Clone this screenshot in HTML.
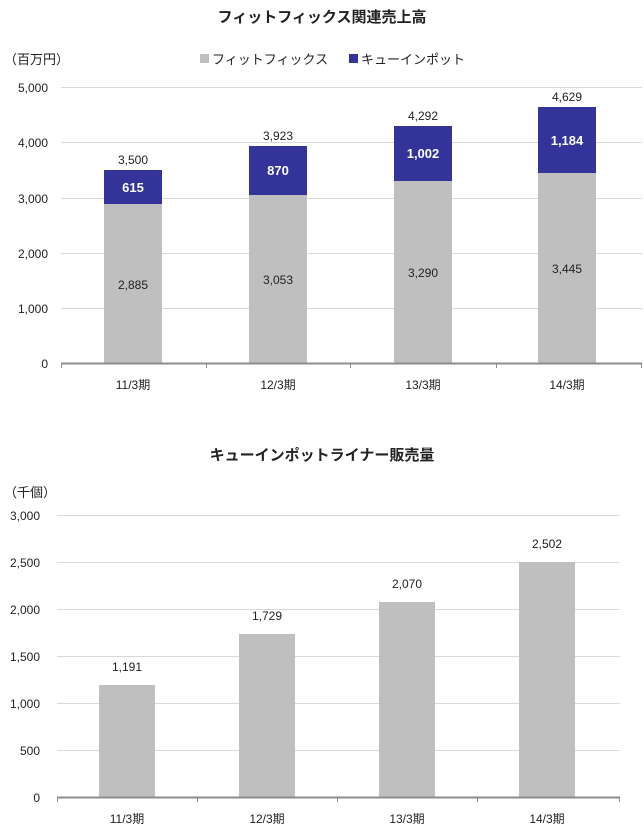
<!DOCTYPE html>
<html><head><meta charset="utf-8"><style>
body{margin:0;background:#fff;}
svg text{font-family:"Liberation Sans","Noto Sans CJK JP",sans-serif;fill:#222;}
</style></head><body>
<svg width="644" height="828" viewBox="0 0 644 828" xmlns="http://www.w3.org/2000/svg">
<text x="322" y="22" font-size="15" font-weight="bold" text-anchor="middle">フィットフィックス関連売上高</text>
<text x="4" y="64" font-size="13">（百万円）</text>
<rect x="200" y="54" width="9" height="9" fill="#bfbfbf"/>
<text x="212" y="64" font-size="13">フィットフィックス</text>
<rect x="349" y="54" width="9" height="9" fill="#333399"/>
<text x="361" y="64" font-size="13">キューインポット</text>
<g stroke="#d9d9d9" stroke-width="1">
<line x1="61" y1="87.5" x2="642" y2="87.5"/><line x1="61" y1="142.5" x2="642" y2="142.5"/>
<line x1="61" y1="198.5" x2="642" y2="198.5"/><line x1="61" y1="253.5" x2="642" y2="253.5"/>
<line x1="61" y1="308.5" x2="642" y2="308.5"/></g>
<g font-size="12" text-anchor="end">
<text x="48" y="92">5,000</text><text x="48" y="147">4,000</text><text x="48" y="203">3,000</text>
<text x="48" y="258">2,000</text><text x="48" y="313">1,000</text><text x="48" y="368">0</text></g>
<g fill="#bfbfbf"><rect x="104" y="204" width="58" height="159"/><rect x="249" y="195" width="58" height="168"/>
<rect x="394" y="181" width="58" height="182"/><rect x="538" y="173" width="58" height="190"/></g>
<g fill="#333399"><rect x="104" y="170" width="58" height="34"/><rect x="249" y="146" width="58" height="49"/>
<rect x="394" y="126" width="58" height="55"/><rect x="538" y="107" width="58" height="66"/></g>
<line x1="61" y1="363.5" x2="642" y2="363.5" stroke="#8c8c8c" stroke-width="2"/>
<g stroke="#8c8c8c"><line x1="61.5" y1="363" x2="61.5" y2="368"/><line x1="206.5" y1="363" x2="206.5" y2="368"/><line x1="350.5" y1="363" x2="350.5" y2="368"/><line x1="496.5" y1="363" x2="496.5" y2="368"/><line x1="641.5" y1="363" x2="641.5" y2="368"/></g>
<g font-size="12" text-anchor="middle">
<text x="133" y="164">3,500</text><text x="278" y="140">3,923</text><text x="423" y="120">4,292</text><text x="567" y="101">4,629</text>
<text x="133" y="289">2,885</text><text x="278" y="284">3,053</text><text x="423" y="277">3,290</text><text x="567" y="273">3,445</text>
<g font-weight="bold" font-size="13" style="fill:#fff"><text x="133" y="192" style="fill:#fff">615</text><text x="278" y="175" style="fill:#fff">870</text><text x="423" y="158" style="fill:#fff">1,002</text><text x="567" y="145" style="fill:#fff">1,184</text></g>
<text x="133" y="389">11/3期</text><text x="278" y="389">12/3期</text><text x="423" y="389">13/3期</text><text x="567" y="389">14/3期</text></g>

<text x="322" y="460" font-size="15" font-weight="bold" text-anchor="middle">キューインポットライナー販売量</text>
<text x="4" y="497" font-size="13">（千個）</text>
<g stroke="#d9d9d9"><line x1="57" y1="515.5" x2="620" y2="515.5"/><line x1="57" y1="562.5" x2="620" y2="562.5"/>
<line x1="57" y1="609.5" x2="620" y2="609.5"/><line x1="57" y1="656.5" x2="620" y2="656.5"/>
<line x1="57" y1="703.5" x2="620" y2="703.5"/><line x1="57" y1="750.5" x2="620" y2="750.5"/></g>
<g font-size="12" text-anchor="end">
<text x="40" y="520">3,000</text><text x="40" y="567">2,500</text><text x="40" y="614">2,000</text>
<text x="40" y="661">1,500</text><text x="40" y="708">1,000</text><text x="40" y="755">500</text><text x="40" y="802">0</text></g>
<g fill="#bfbfbf"><rect x="99" y="685" width="56" height="112"/><rect x="239" y="634" width="56" height="163"/>
<rect x="379" y="602" width="56" height="195"/><rect x="519" y="562" width="56" height="235"/></g>
<line x1="57" y1="797.5" x2="620" y2="797.5" stroke="#8c8c8c" stroke-width="2"/>
<g stroke="#8c8c8c"><line x1="57.5" y1="797" x2="57.5" y2="802"/><line x1="197.5" y1="797" x2="197.5" y2="802"/><line x1="337.5" y1="797" x2="337.5" y2="802"/><line x1="477.5" y1="797" x2="477.5" y2="802"/><line x1="619.5" y1="797" x2="619.5" y2="802"/></g>
<g font-size="12" text-anchor="middle">
<text x="127" y="671">1,191</text><text x="267" y="620">1,729</text><text x="407" y="588">2,070</text><text x="547" y="548">2,502</text>
<text x="127" y="823">11/3期</text><text x="267" y="823">12/3期</text><text x="407" y="823">13/3期</text><text x="547" y="823">14/3期</text></g>
</svg>
</body></html>
